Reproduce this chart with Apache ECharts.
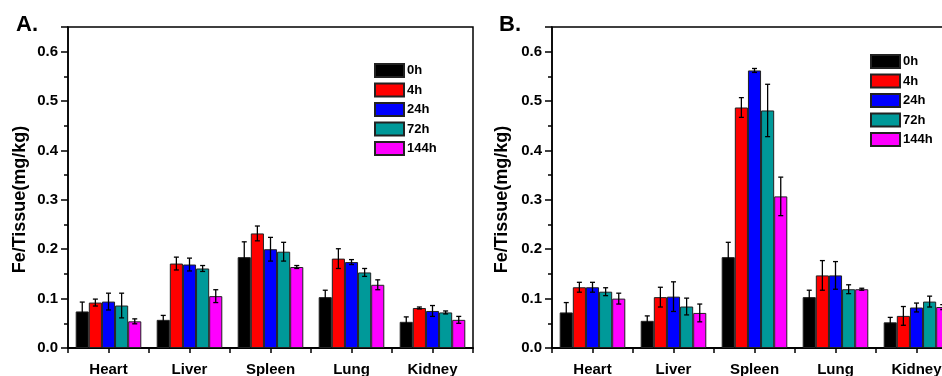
<!DOCTYPE html>
<html>
<head>
<meta charset="utf-8">
<script src="https://cdn.jsdelivr.net/npm/echarts@6/dist/echarts.min.js"></script>
<style>
  html, body { margin: 0; padding: 0; background: #fff; }
  #chart { width: 942px; height: 376px; }
</style>
</head>
<body>
<div id="chart"></div>
<script>
const organs = ["Heart", "Liver", "Spleen", "Lung", "Kidney"];
const timepoints = ["0h", "4h", "24h", "72h", "144h"];
const colors = ["#000000", "#ff0000", "#0000ff", "#009999", "#ff00ff"];

// Panel A: mean Fe per organ (Heart, Liver, Spleen, Lung, Kidney)
const meanA0h = [0.074, 0.057, 0.184, 0.103, 0.053];
const meanA4h = [0.092, 0.171, 0.232, 0.181, 0.081];
const meanA24h = [0.094, 0.169, 0.200, 0.174, 0.075];
const meanA72h = [0.086, 0.161, 0.195, 0.153, 0.072];
const meanA144h = [0.054, 0.105, 0.164, 0.128, 0.057];
// Panel A: error (+/-)
const errA0h = [0.019, 0.009, 0.031, 0.014, 0.010];
const errA4h = [0.007, 0.013, 0.015, 0.020, 0.002];
const errA24h = [0.017, 0.013, 0.024, 0.005, 0.011];
const errA72h = [0.025, 0.006, 0.019, 0.008, 0.003];
const errA144h = [0.005, 0.013, 0.003, 0.010, 0.007];

// Panel B
const meanB0h = [0.072, 0.055, 0.184, 0.103, 0.052];
const meanB4h = [0.123, 0.103, 0.487, 0.147, 0.065];
const meanB24h = [0.123, 0.104, 0.562, 0.147, 0.082];
const meanB72h = [0.114, 0.084, 0.481, 0.119, 0.094];
const meanB144h = [0.100, 0.071, 0.307, 0.119, 0.083];
const errB0h = [0.020, 0.010, 0.030, 0.014, 0.010];
const errB4h = [0.010, 0.020, 0.020, 0.030, 0.019];
const errB24h = [0.010, 0.030, 0.004, 0.028, 0.009];
const errB72h = [0.008, 0.017, 0.053, 0.009, 0.011];
const errB144h = [0.011, 0.018, 0.039, 0.002, 0.005];

const meansA = [meanA0h, meanA4h, meanA24h, meanA72h, meanA144h];
const errsA = [errA0h, errA4h, errA24h, errA72h, errA144h];
const meansB = [meanB0h, meanB4h, meanB24h, meanB72h, meanB144h];
const errsB = [errB0h, errB4h, errB24h, errB72h, errB144h];

const FONT = "'Liberation Sans', Arial, sans-serif";
const GAP = 0.19; // barCategoryGap

function errorItem(params, api) {
  const cat = api.value(0);
  const k = api.value(1);
  const band = api.size([1, 0])[0];
  const groupW = band * (1 - GAP);
  const bw = groupW / timepoints.length;
  const dx = -groupW / 2 + bw * (k + 0.5);
  const top = api.coord([cat, api.value(3)]);
  const bot = api.coord([cat, api.value(2)]);
  const x = top[0] + dx;
  const cap = 2.5;
  const st = { stroke: "#000", lineWidth: 1.3 };
  return {
    type: "group",
    children: [
      { type: "line", shape: { x1: x, y1: top[1], x2: x, y2: bot[1] }, style: st },
      { type: "line", shape: { x1: x - cap, y1: top[1], x2: x + cap, y2: top[1] }, style: st },
      { type: "line", shape: { x1: x - cap, y1: bot[1], x2: x + cap, y2: bot[1] }, style: st },
    ],
  };
}

function panelSeries(g, means, errs) {
  const out = timepoints.map((t, k) => ({
    name: t,
    type: "bar",
    xAxisIndex: g * 2,
    yAxisIndex: g,
    data: means[k],
    barGap: "0%",
    barCategoryGap: GAP * 100 + "%",
    itemStyle: { color: colors[k], borderColor: "#222", borderWidth: 1 },
    emphasis: { disabled: true },
  }));
  const errData = [];
  timepoints.forEach((t, k) => {
    organs.forEach((o, i) => {
      errData.push([i, k, means[k][i] - errs[k][i], means[k][i] + errs[k][i]]);
    });
  });
  out.push({
    type: "custom",
    xAxisIndex: g * 2,
    yAxisIndex: g,
    renderItem: errorItem,
    encode: { x: 0, y: [2, 3] },
    data: errData,
    z: 5,
  });
  return out;
}

function xAxes(g) {
  const base = {
    gridIndex: g,
    type: "category",
    position: "bottom",
    data: organs,
    axisLine: { show: true, lineStyle: { color: "#000", width: 1.5 } },
  };
  return [
    Object.assign({}, base, {
      axisTick: { show: true, alignWithLabel: true, length: 5, lineStyle: { width: 1.5 } },
      axisLabel: { fontSize: 15, fontWeight: "bold", color: "#000", fontFamily: FONT, margin: 14 },
    }),
    // second axis only for the ticks between the groups
    Object.assign({}, base, {
      axisTick: { show: true, length: 5, lineStyle: { width: 1.5 } },
      axisLabel: { show: false },
    }),
  ];
}

function yAxis(g, gap) {
  return {
    gridIndex: g,
    type: "value",
    min: 0,
    max: 0.65,
    interval: 0.1,
    axisLine: { show: true, lineStyle: { color: "#000", width: 1.5 } },
    axisTick: { show: true, length: 7, lineStyle: { width: 1.5 } },
    minorTick: { show: true, splitNumber: 2, length: 4, lineStyle: { color: "#000", width: 1.5 } },
    splitLine: { show: false },
    axisLabel: {
      fontSize: 15, fontWeight: "bold", color: "#000", fontFamily: FONT, margin: 10,
      formatter: (v) => (v > 0.6001 ? "" : v.toFixed(1)),
    },
    name: "Fe/Tissue(mg/kg)",
    nameLocation: "middle",
    nameGap: gap,
    nameTextStyle: { fontSize: 18, fontWeight: "bold", color: "#000", fontFamily: FONT, padding: [0, 24, 0, 0] },
  };
}

function legend(left, top) {
  return {
    data: timepoints,
    orient: "vertical",
    left: left,
    top: top,
    icon: "rect",
    itemWidth: 29,
    itemHeight: 13,
    itemGap: 4.5,
    padding: 0,
    selectedMode: false,
    textStyle: { fontSize: 13, fontWeight: "bold", color: "#000", fontFamily: FONT, padding: [0, 0, 0, -2] },
  };
}

const chart = echarts.init(document.getElementById("chart"), null, { renderer: "canvas" });

chart.setOption({
  animation: false,
  backgroundColor: "#fff",
  title: [
    { text: "A.", left: 11, top: 9, textStyle: { fontSize: 22, fontWeight: "bold", color: "#000", fontFamily: FONT } },
    { text: "B.", left: 494, top: 9, textStyle: { fontSize: 22, fontWeight: "bold", color: "#000", fontFamily: FONT } },
  ],
  legend: [legend(374, 63), legend(870, 54)],
  grid: [
    { left: 68, top: 27, width: 405, height: 321, show: true, borderColor: "#000", borderWidth: 1.5, outerBoundsMode: "none" },
    { left: 552, top: 27, width: 405, height: 321, show: true, borderColor: "#000", borderWidth: 1.5, outerBoundsMode: "none" },
  ],
  xAxis: xAxes(0).concat(xAxes(1)),
  yAxis: [yAxis(0, 39), yAxis(1, 41)],
  series: panelSeries(0, meansA, errsA).concat(panelSeries(1, meansB, errsB)),
});
</script>
</body>
</html>
